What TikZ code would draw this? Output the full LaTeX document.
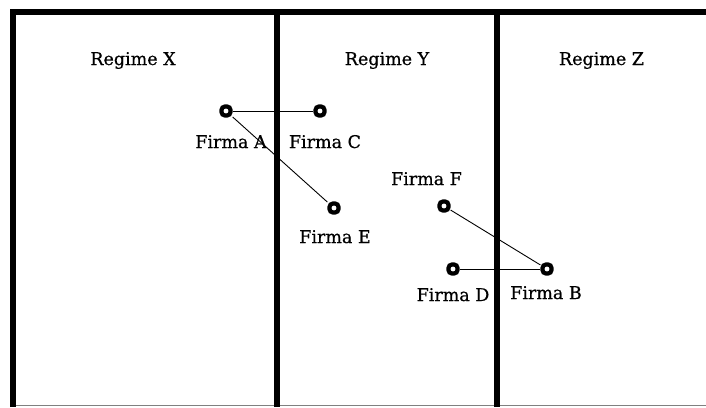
\documentclass[tikz,border=0pt]{standalone}
\usepackage{fontspec}
\setmainfont{DejaVu Serif}
\newfontfamily\lblfont{DejaVu Serif}[FakeBold=0.6]
\begin{document}
\begin{tikzpicture}[x=1pt,y=-1pt,
  firm/.style={draw=black,fill=white,rectangle,rounded corners=3.5pt,minimum size=9pt,inner sep=0pt,line width=4.2pt},
  bar/.style={line width=6.5pt,black},
  link/.style={line width=0.9pt,black},
  lbl/.style={anchor=base,inner sep=0pt,font=\lblfont\fontsize{17.5}{20}\selectfont}]
\useasboundingbox (0,0) rectangle (706,407);
% frame
\draw[gray,line width=1pt] (10,405.5) -- (706,405.5);
\draw[bar] (13,407) -- (13,12) -- (706,12);
\draw[bar] (277,12) -- (277,407);
\draw[bar] (497,12) -- (497,407);
% labels
\node[lbl] (rx) at (133,65) {Regime X};
\node[lbl] (ry) at (387,65) {Regime Y};
\node[lbl] (rz) at (601.5,65) {Regime Z};
% firms
\node[firm] (A) at (226,111) {};
\node[firm] (C) at (320,111) {};
\node[firm] (E) at (334,208) {};
\node[firm] (F) at (444,206) {};
\node[firm] (D) at (453,269) {};
\node[firm] (B) at (547,269) {};
\draw[link] (A) -- (C);
\draw[link] (A) -- (E);
\draw[link] (F) -- (B);
\draw[link] (D) -- (B);
\node[lbl] (la) at (231,148) {Firma A};
\node[lbl] (lc) at (325,148) {Firma C};
\node[lbl] (le) at (335,243) {Firma E};
\node[lbl] (lf) at (426.5,185) {Firma F};
\node[lbl] (ld) at (453,301) {Firma D};
\node[lbl] (lb) at (546,299) {Firma B};
\end{tikzpicture}
\end{document}
